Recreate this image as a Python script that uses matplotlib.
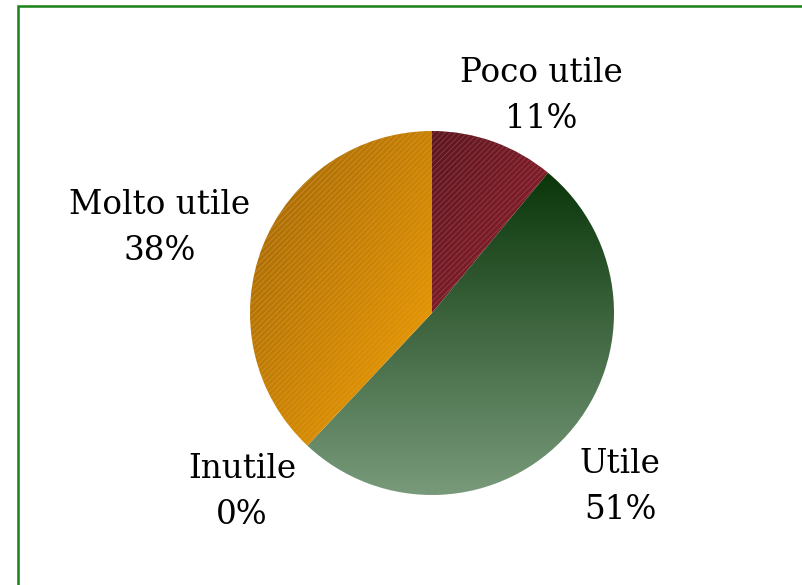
import numpy as np
import matplotlib.pyplot as plt
from matplotlib.colors import LinearSegmentedColormap

categorie = ['Poco utile', 'Utile', 'Inutile', 'Molto utile']
valori = [11, 51, 0, 38]
percentuali = ['11%', '51%', '0%', '38%']

# colori sfumati (inizio, fine) e direzione della sfumatura
sfumature = [('#5a1820', '#942230'), ('#0a360a', '#789a7a'), ('#ffffff', '#ffffff'), ('#9c6208', '#f8a200')]
direzioni = ['diag', 'vert', 'vert', 'diag']
tratteggio = ['#b0505c', None, None, '#d8a040']

plt.rcParams['font.family'] = ['DejaVu Serif']
plt.rcParams['hatch.linewidth'] = 0.6

fig = plt.figure(figsize=(8.03, 5.85), dpi=100)
ax = fig.add_axes([0, 0, 1, 1])

cx, cy, r = 432, 272, 182
wedges, _ = ax.pie(valori, startangle=90, counterclock=False, center=(cx, cy), radius=r,
                   wedgeprops=dict(linewidth=0), frame=True)
ax.set_xlim(0, 803)
ax.set_ylim(0, 585)
ax.axis('off')

yy, xx = np.mgrid[0:1:200j, 0:1:200j]
for w, (c0, c1), d, h in zip(wedges, sfumature, direzioni, tratteggio):
    ext = w.get_path().get_extents()
    if ext.width < 1:
        continue
    cmap = LinearSegmentedColormap.from_list('g', [c0, c1])
    if d == 'vert':
        grad = yy[::-1]
    else:
        grad = (xx + (1 - yy)) / 2
    w.set_facecolor('none')
    im = ax.imshow(grad, cmap=cmap, extent=(ext.x0, ext.x1, ext.y0, ext.y1), origin='lower',
                   aspect='auto', zorder=1)
    im.set_clip_path(w)
    if h:
        w.set_hatch('//////')
        w.set_edgecolor(h)
        w.set_alpha(0.6)
        w.set_zorder(2)

ax.set_aspect('auto')

etichette = [(541, 489), (620, 98), (242, 93), (160, 357)]
for (x, y), nome, p in zip(etichette, categorie, percentuali):
    ax.text(x, y, nome + '\n' + p, ha='center', va='center', fontsize=23.5,
            linespacing=1.55, color='black')

# cornice verde
ax.plot([18, 18, 810], [-10, 579, 579], color='#1a8019', lw=1.8, solid_joinstyle='miter')

fig.savefig('out.png', dpi=100)
